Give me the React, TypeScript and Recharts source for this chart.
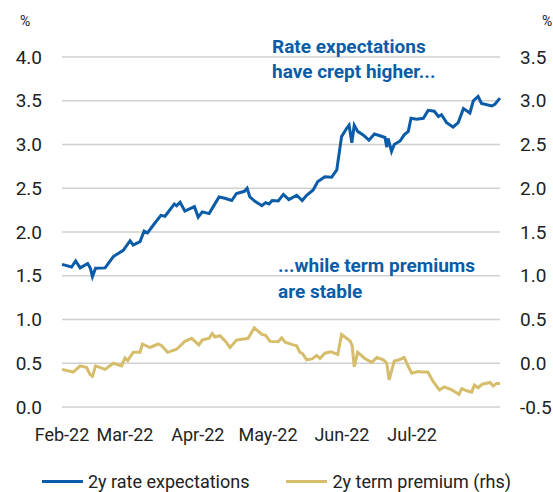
import React from "react";
import { LineChart, Line, XAxis, YAxis, CartesianGrid, Legend } from "recharts";

// x = business-day index from 1 Feb 2022 (0) to end Jul 2022 (128)
const rateDays = [0, 2.8, 4.0, 5.3, 7.5, 8.3, 8.9, 9.8, 12.6, 15.0, 17.9, 19.9, 20.8, 22.8, 24.0, 25.0, 26.7, 28.9, 30.1, 32.8, 33.5, 34.5, 35.9, 38.7, 39.8, 41.0, 43.0, 44.2, 45.9, 47.6, 49.6, 51.0, 53.3, 54.1, 54.9, 56.4, 58.4, 59.5, 60.5, 61.4, 63.2, 64.7, 66.3, 68.6, 70.2, 71.5, 73.4, 74.7, 76.8, 78.8, 80.3, 81.7, 83.2, 83.9, 84.7, 85.4, 86.4, 88.0, 89.7, 91.3, 92.9, 94.4, 94.9, 95.3, 96.3, 97.1, 98.8, 100.0, 101.2, 102.0, 103.6, 105.6, 107.0, 108.8, 110.0, 110.9, 112.4, 114.3, 115.8, 117.3, 119.2, 120.2, 121.6, 122.6, 125.6, 126.5, 128];
const rateValues = [1.63, 1.6, 1.67, 1.59, 1.64, 1.585, 1.49, 1.585, 1.59, 1.72, 1.79, 1.9, 1.85, 1.89, 2.01, 1.99, 2.08, 2.19, 2.18, 2.32, 2.3, 2.34, 2.24, 2.29, 2.17, 2.23, 2.21, 2.29, 2.4, 2.385, 2.36, 2.44, 2.465, 2.5, 2.4, 2.35, 2.3, 2.335, 2.32, 2.36, 2.355, 2.43, 2.37, 2.42, 2.36, 2.42, 2.48, 2.575, 2.63, 2.625, 2.71, 3.09, 3.185, 3.22, 3.02, 3.22, 3.15, 3.11, 3.05, 3.12, 3.1, 3.08, 2.97, 3.07, 2.92, 3.0, 3.04, 3.11, 3.15, 3.3, 3.29, 3.3, 3.39, 3.38, 3.32, 3.34, 3.25, 3.2, 3.25, 3.41, 3.36, 3.5, 3.55, 3.47, 3.44, 3.46, 3.53];

const premDays = [0, 3.3, 5.3, 7.2, 8.2, 8.9, 9.8, 12.6, 15.0, 17.4, 18.4, 19.2, 20.8, 22.8, 23.5, 25.7, 28.1, 29.1, 30.9, 33.5, 35.9, 37.9, 40.0, 41.0, 43.0, 43.9, 44.7, 46.2, 47.8, 49.1, 51.0, 54.4, 56.2, 58.4, 59.5, 60.8, 63.2, 64.2, 65.2, 67.6, 68.6, 69.5, 70.2, 71.5, 73.1, 74.4, 75.4, 76.8, 78.6, 80.6, 81.7, 84.2, 84.8, 85.4, 86.4, 88.5, 90.5, 92.0, 93.9, 94.9, 95.6, 97.1, 98.5, 100.0, 101.0, 102.2, 103.9, 105.1, 106.9, 108.5, 110.3, 111.7, 113.9, 116.0, 116.8, 118.3, 119.7, 120.5, 121.6, 122.8, 125.1, 126.0, 127.0, 128];
const premValues = [-0.07, -0.1, -0.03, -0.05, -0.13, -0.15, -0.03, -0.07, 0.0, -0.03, 0.06, 0.03, 0.125, 0.125, 0.22, 0.18, 0.22, 0.2, 0.125, 0.16, 0.25, 0.285, 0.21, 0.265, 0.285, 0.34, 0.3, 0.315, 0.25, 0.18, 0.265, 0.285, 0.405, 0.33, 0.32, 0.25, 0.245, 0.29, 0.24, 0.21, 0.2, 0.125, 0.115, 0.04, 0.05, 0.09, 0.055, 0.115, 0.13, 0.1, 0.33, 0.255, 0.2, -0.04, 0.125, 0.055, 0.01, 0.065, 0.04, 0.0, -0.19, 0.025, 0.04, 0.065, -0.02, -0.115, -0.095, -0.1, -0.1, -0.21, -0.305, -0.27, -0.305, -0.355, -0.29, -0.315, -0.33, -0.25, -0.28, -0.24, -0.22, -0.26, -0.23, -0.23];

const monthTicks = [0, 18.4, 39.7, 60.2, 81.8, 102.3];
const monthLabels = ["Feb-22", "Mar-22", "Apr-22", "May-22", "Jun-22", "Jul-22"];
const leftTicks = [0, 0.5, 1, 1.5, 2, 2.5, 3, 3.5, 4];
const rightTicks = [-0.5, 0, 0.5, 1, 1.5, 2, 2.5, 3, 3.5];

const rateData = rateDays.map((x, i) => ({ x, v: rateValues[i] }));
const premData = premDays.map((x, i) => ({ x, v: premValues[i] }));

const BLUE = "#0a5ca8";
const GOLD = "#d6bd6b";
const TEXT = "#222222";
const FONT = "Roboto, sans-serif";

const renderLegend = (props: any) => {
  const items = props.payload || [];
  return (
    <div style={{ display: "flex", justifyContent: "center", alignItems: "center", height: 22, fontFamily: FONT, fontSize: 18, color: TEXT, gap: 37 }}>
      {items.map((it: any) => (
        <div key={it.value} style={{ display: "flex", alignItems: "center" }}>
          <div style={{ width: 41, height: 3, background: it.color, marginRight: 5 }} />
          <span>{it.value}</span>
        </div>
      ))}
    </div>
  );
};

export default function App() {
  return (
    <div style={{ position: "absolute", left: 0, top: 0, width: 553, height: 492, background: "#fff" }}>
      <LineChart width={553} height={492} margin={{ top: 57, right: 0, bottom: 0, left: 0 }}>
        <CartesianGrid vertical={false} yAxisId="left" stroke="#d0d0d0" strokeWidth={1.3} />
        <XAxis
          type="number"
          dataKey="x"
          domain={[0, 128]}
          ticks={monthTicks}
          tickFormatter={(v: number) => monthLabels[monthTicks.indexOf(v)] ?? ""}
          axisLine={false}
          tickLine={false}
          tickMargin={15}
          height={63}
          interval={0}
          tick={{ fontSize: 18, fill: TEXT, fontFamily: FONT }}
          allowDuplicatedCategory={false}
        />
        <YAxis
          yAxisId="left"
          domain={[0, 4]}
          ticks={leftTicks}
          width={62}
          axisLine={false}
          tickLine={false}
          tickMargin={14}
          interval={0}
          tickFormatter={(v: number) => v.toFixed(1)}
          tick={{ fontSize: 19, fill: TEXT, fontFamily: FONT }}
        />
        <YAxis
          yAxisId="right"
          orientation="right"
          domain={[-0.5, 3.5]}
          ticks={rightTicks}
          width={53}
          axisLine={false}
          tickLine={false}
          tickMargin={14}
          interval={0}
          tickFormatter={(v: number) => v.toFixed(1)}
          tick={{ fontSize: 19, fill: TEXT, fontFamily: FONT }}
        />
        <Line data={rateData} dataKey="v" name="2y rate expectations" yAxisId="left" stroke={BLUE} strokeWidth={3} dot={false} isAnimationActive={false} type="linear" />
        <Line data={premData} dataKey="v" name="2y term premium (rhs)" yAxisId="right" stroke={GOLD} strokeWidth={3} dot={false} isAnimationActive={false} type="linear" />
        <Legend verticalAlign="bottom" content={renderLegend} />
        <text x={20} y={26} fontSize={14} fill={TEXT} fontFamily={FONT}>%</text>
        <text x={542} y={26} fontSize={14} fill={TEXT} fontFamily={FONT}>%</text>
        <text fontSize={19} fontWeight="bold" fill={BLUE} fontFamily={FONT}>
          <tspan x={272} y={53}>Rate expectations</tspan>
          <tspan x={272} y={78}>have crept higher...</tspan>
        </text>
        <text fontSize={19} fontWeight="bold" fill={BLUE} fontFamily={FONT}>
          <tspan x={278} y={272}>...while term premiums</tspan>
          <tspan x={278} y={298}>are stable</tspan>
        </text>
      </LineChart>
    </div>
  );
}
